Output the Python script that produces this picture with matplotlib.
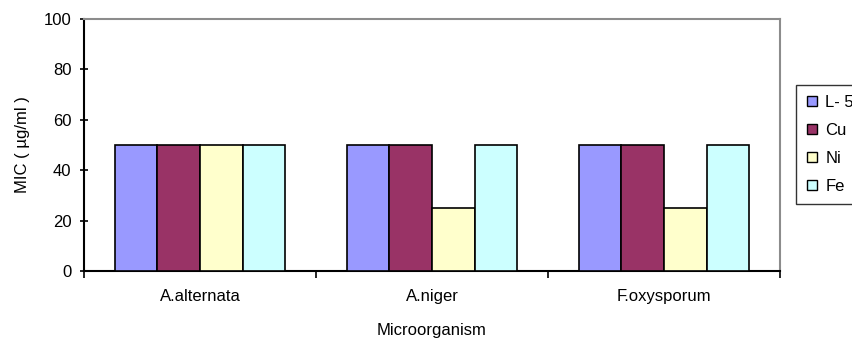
import numpy as np
import matplotlib.pyplot as plt
from matplotlib.lines import Line2D

organisms = ["A.alternata", "A.niger", "F.oxysporum"]
compounds = ["L- 5", "Cu", "Ni", "Fe"]
mic_l5 = [50, 50, 50]
mic_cu = [50, 50, 50]
mic_ni = [50, 25, 25]
mic_fe = [50, 50, 50]
colours = ["#9999FF", "#993366", "#FFFFCC", "#CCFFFF"]

plt.rcParams["font.family"] = ["Liberation Sans", "DejaVu Sans"]
plt.rcParams["font.size"] = 12

fig = plt.figure(figsize=(8.53, 3.45), dpi=100)
ax = fig.add_axes([84/853, 1-271/345, (780-84)/853, (271-19)/345])

x = np.arange(len(organisms))
w = 0.184
series = [mic_l5, mic_cu, mic_ni, mic_fe]
for i, vals in enumerate(series):
	ax.bar(x + (i-1.5)*w, vals, w, color=colours[i], edgecolor="black", linewidth=1.2, zorder=3)

ax.set_xlim(-0.5, 2.5)
ax.set_ylim(0, 100)
ax.set_yticks(range(0, 101, 20))
ax.set_xticks(x)
ax.set_xticklabels(organisms)
ax.set_xticks(np.arange(-0.5, 3, 1), minor=True)
ax.tick_params(axis="x", which="major", length=0, pad=13)
ax.tick_params(axis="x", which="minor", length=5, width=1.2, direction="out")
ax.tick_params(axis="y", length=6, width=1.2, direction="inout", pad=6)

for s in ["left", "bottom"]:
	ax.spines[s].set_linewidth(1.5)
	ax.spines[s].set_color("black")
for s in ["top", "right"]:
	ax.spines[s].set_linewidth(1.5)
	ax.spines[s].set_color("#8c8c8c")

ax.set_ylabel("MIC ( µg/ml )", labelpad=10)
ax.set_xlabel("Microorganism", labelpad=14)

# small square keys like the spreadsheet legend
handles = [Line2D([], [], marker="s", linestyle="none", markersize=6.5,
		markerfacecolor=c, markeredgecolor="black", markeredgewidth=1) for c in colours]
leg = fig.legend(handles, compounds, loc="upper left",
		bbox_to_anchor=(796/853, 1-85/345), bbox_transform=fig.transFigure,
		frameon=True, fancybox=False, borderaxespad=0, labelspacing=0.78,
		handlelength=0.7, handletextpad=0.45, borderpad=0.6)
leg.get_frame().set_edgecolor("black")
leg.get_frame().set_linewidth(1.0)

plt.savefig("out.png", dpi=100)
